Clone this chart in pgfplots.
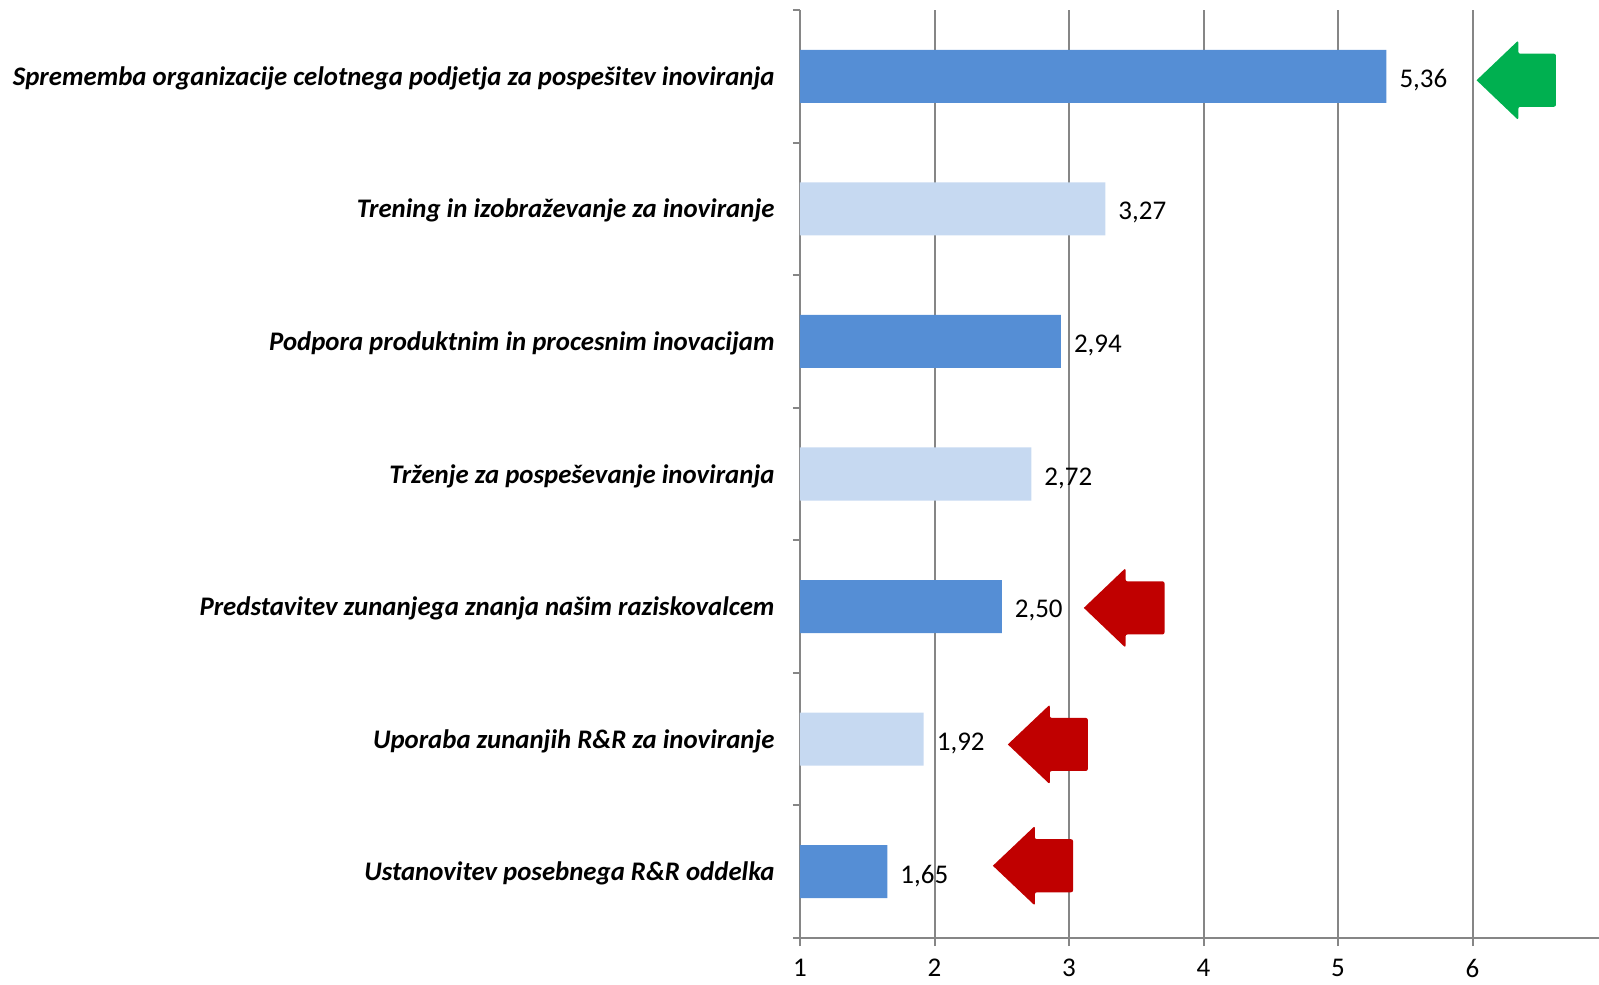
\documentclass[border=0pt]{standalone}
\usepackage{fontspec}
\setmainfont{Carlito}
\usepackage{pgfplots}
\pgfplotsset{compat=1.18}
\definecolor{darkbar}{HTML}{558ED5}
\definecolor{lightbar}{HTML}{C6D9F1}
\definecolor{axgray}{HTML}{868686}
\definecolor{arrgreen}{HTML}{00B050}
\definecolor{arrred}{HTML}{C00000}

\begin{document}
\begin{tikzpicture}
\begin{axis}[
  scale only axis,
  width=399.5pt, height=464pt,
  xmin=1, xmax=6.94,
  ymin=0.5, ymax=7.5,
  axis x line=bottom, axis y line=left,
  axis line style={-, axgray, line width=1pt},
  tick align=outside,
  tick style={axgray, line width=1pt},
  major tick length=4pt, minor tick length=3.5pt,
  xtick={1,...,6},
  xmajorgrids, major grid style={axgray, line width=1pt},
  ytick={1,...,7},
  minor ytick={0.5,1.5,...,7.5},
  major y tick style={draw=none},
  yticklabels={Ustanovitev posebnega R\&R oddelka,
    Uporaba zunanjih R\&R za inoviranje,
    Predstavitev zunanjega znanja našim raziskovalcem,
    Trženje za pospeševanje inoviranja,
    Podpora produktnim in procesnim inovacijam,
    Trening in izobraževanje za inoviranje,
    Sprememba organizacije celotnega podjetja za pospešitev inoviranja},
  yticklabel style={font=\fontsize{13.4}{15}\selectfont\bfseries\itshape, inner sep=0pt, xshift=-8.5pt, yshift=-1pt},
  xticklabel style={font=\fontsize{13.5}{15}\selectfont, inner sep=0pt, yshift=-6.5pt},
  /pgf/number format/assume math mode=true,
  bar width=0.4,
  point meta=x,
  nodes near coords={\pgfmathprintnumber[fixed,fixed zerofill,precision=2,use comma]{\pgfplotspointmeta}},
  every node near coord/.append style={font=\fontsize{13.5}{15}\selectfont, black, anchor=west, xshift=3pt, yshift=-2pt},
]
% dark bars
\addplot[xbar, fill=darkbar, draw=none] coordinates {
  (5.36,7) (2.94,5) (2.50,3) (1.65,1)};
% light bars
\addplot[xbar, fill=lightbar, draw=none] coordinates {
  (3.27,6) (2.72,4) (1.92,2)};
% arrows
\addplot[fill=arrgreen, draw=none, mark=none, rounded corners=1pt, nodes near coords={}] coordinates {
  (6.03,6.97) (6.34,7.27) (6.34,7.17) (6.62,7.17) (6.62,6.77) (6.34,6.77) (6.34,6.67) (6.03,6.97)};
\addplot[fill=arrred, draw=none, mark=none, rounded corners=1pt, nodes near coords={}] coordinates {
  (3.11,2.99) (3.42,3.29) (3.42,3.19) (3.71,3.19) (3.71,2.79) (3.42,2.79) (3.42,2.69) (3.11,2.99)};
\addplot[fill=arrred, draw=none, mark=none, rounded corners=1pt, nodes near coords={}] coordinates {
  (2.545,1.96) (2.857,2.26) (2.857,2.16) (3.14,2.16) (3.14,1.76) (2.857,1.76) (2.857,1.66) (2.545,1.96)};
\addplot[fill=arrred, draw=none, mark=none, rounded corners=1pt, nodes near coords={}] coordinates {
  (2.434,1.045) (2.746,1.345) (2.746,1.245) (3.03,1.245) (3.03,0.845) (2.746,0.845) (2.746,0.745) (2.434,1.045)};
\end{axis}
\pgfresetboundingbox
\path[use as bounding box] ([xshift=-400pt, yshift=-23pt]current axis.south west) rectangle ([yshift=5pt]current axis.north east);
\end{tikzpicture}
\end{document}
